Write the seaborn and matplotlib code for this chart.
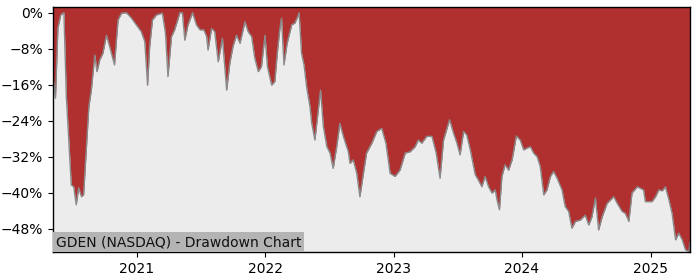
import matplotlib
matplotlib.use("Agg")
import matplotlib.pyplot as plt
import matplotlib.dates as mdates
from matplotlib.ticker import PercentFormatter, FixedLocator
import seaborn as sns
import pandas as pd

dates = [
    "2020-05-07", "2020-05-14", "2020-05-21", "2020-05-29", "2020-06-07", "2020-06-14",
    "2020-06-21", "2020-06-28", "2020-07-05", "2020-07-12", "2020-07-19", "2020-07-27",
    "2020-08-02", "2020-08-08", "2020-08-17", "2020-08-24", "2020-09-03", "2020-09-09",
    "2020-09-17", "2020-09-26", "2020-10-06", "2020-10-15", "2020-10-29", "2020-11-08",
    "2020-11-18", "2020-12-02", "2020-12-16", "2020-12-30", "2021-01-13", "2021-01-23",
    "2021-01-31", "2021-02-06", "2021-02-14", "2021-02-25", "2021-03-14", "2021-03-23",
    "2021-03-30", "2021-04-09", "2021-04-18", "2021-05-03", "2021-05-10", "2021-05-17",
    "2021-05-26", "2021-06-08", "2021-06-19", "2021-06-29", "2021-07-10", "2021-07-18",
    "2021-07-22", "2021-08-01", "2021-08-10", "2021-08-20", "2021-09-01", "2021-09-13",
    "2021-09-22", "2021-10-01", "2021-10-11", "2021-10-21", "2021-11-04", "2021-11-13",
    "2021-11-23", "2021-12-02", "2021-12-12", "2021-12-21", "2021-12-31", "2022-01-07",
    "2022-01-19", "2022-01-28", "2022-02-04", "2022-02-11", "2022-02-16", "2022-02-23",
    "2022-03-04", "2022-03-17", "2022-03-26", "2022-04-03", "2022-04-07", "2022-04-14",
    "2022-04-21", "2022-04-29", "2022-05-08", "2022-05-13", "2022-05-22", "2022-06-01",
    "2022-06-07", "2022-06-15", "2022-06-25", "2022-07-04", "2022-07-13", "2022-07-23",
    "2022-08-01", "2022-08-11", "2022-08-25", "2022-08-30", "2022-09-08", "2022-09-18",
    "2022-09-27", "2022-10-07", "2022-10-16", "2022-10-31", "2022-11-14", "2022-11-28",
    "2022-12-10", "2022-12-22", "2023-01-05", "2023-01-19", "2023-02-03", "2023-02-17",
    "2023-03-03", "2023-03-12", "2023-03-22", "2023-04-05", "2023-04-20", "2023-05-02",
    "2023-05-13", "2023-05-23", "2023-06-09", "2023-06-20", "2023-06-30", "2023-07-09",
    "2023-07-19", "2023-07-28", "2023-08-07", "2023-08-21", "2023-08-30", "2023-09-09",
    "2023-09-18", "2023-09-28", "2023-10-08", "2023-10-17", "2023-10-22", "2023-10-29",
    "2023-11-05", "2023-11-14", "2023-11-24", "2023-12-04", "2023-12-16", "2023-12-27",
    "2024-01-06", "2024-01-15", "2024-01-25", "2024-02-03", "2024-02-13", "2024-02-22",
    "2024-03-03", "2024-03-12", "2024-03-22", "2024-03-31", "2024-04-10", "2024-04-24",
    "2024-05-03", "2024-05-13", "2024-05-22", "2024-06-01", "2024-06-15", "2024-06-29",
    "2024-07-09", "2024-07-18", "2024-07-28", "2024-08-06", "2024-08-16", "2024-08-30",
    "2024-09-18", "2024-09-28", "2024-10-12", "2024-10-21", "2024-10-31", "2024-11-09",
    "2024-11-24", "2024-12-12", "2024-12-17", "2025-01-05", "2025-01-15", "2025-01-24",
    "2025-02-03", "2025-02-12", "2025-02-22", "2025-03-03", "2025-03-13", "2025-03-22",
    "2025-04-01", "2025-04-10", "2025-04-20", "2025-04-23",
]

drawdown_pct = [
    -14.2, -19.0, -3.4, -0.5, 0.0, -18.7,
    -28.3, -38.3, -38.7, -42.7, -38.9, -40.9,
    -40.5, -32.7, -20.9, -17.2, -9.4, -13.1,
    -10.5, -9.0, -5.0, -7.5, -11.6, -1.6,
    -0.1, 0.0, -1.2, -2.7, -4.2, -6.4,
    -16.1, -7.5, -1.6, -0.5, -0.1, -4.6,
    -14.2, -5.3, -3.8, 0.0, 0.0, -6.1,
    -2.7, 0.0, -2.7, -3.8, -3.8, -5.3,
    -8.3, -3.5, -4.2, -10.9, -5.7, -17.2,
    -11.2, -7.5, -5.0, -6.8, -2.0, -4.2,
    -5.3, -10.1, -13.1, -12.0, -5.0, -12.0,
    -16.1, -15.3, -9.0, -3.8, -1.2, -11.6,
    -6.8, -2.7, -2.3, -0.9, 0.0, -9.0,
    -11.6, -16.8, -20.9, -24.6, -28.3, -21.3,
    -17.2, -25.3, -29.8, -31.2, -34.6, -29.8,
    -24.6, -27.5, -30.9, -33.5, -32.7, -35.7,
    -40.9, -35.7, -31.2, -29.0, -26.4, -25.7,
    -29.0, -35.7, -36.4, -35.0, -31.2, -30.9,
    -29.8, -28.3, -29.0, -27.5, -27.5, -31.2,
    -36.8, -28.3, -23.8, -26.7, -29.0, -31.6,
    -26.4, -27.2, -30.5, -36.0, -37.2, -38.7,
    -36.4, -38.7, -40.1, -39.4, -41.6, -43.8,
    -36.4, -33.8, -35.0, -32.7, -27.4, -28.3,
    -30.5, -30.1, -29.8, -31.2, -32.0, -34.2,
    -40.5, -39.4, -36.4, -35.3, -36.8, -39.4,
    -43.1, -44.2, -47.9, -46.4, -46.1, -45.0,
    -47.2, -45.4, -41.2, -48.3, -45.4, -42.4,
    -40.9, -42.4, -44.2, -44.6, -46.4, -40.1,
    -38.7, -39.4, -42.0, -42.0, -40.9, -39.4,
    -39.6, -38.7, -41.6, -44.6, -50.5, -49.0,
    -50.5, -52.7, -53.1, -51.0,
]

y_ticks = [0, -8, -16, -24, -32, -40, -48]
title_text = "GDEN (NASDAQ) - Drawdown Chart"

df = pd.DataFrame({"date": pd.to_datetime(dates), "dd": drawdown_pct})

sns.set_style("ticks", {"axes.facecolor": "#ececec", "axes.edgecolor": "black"})
plt.rcParams["font.family"] = ["DejaVu Sans"]

fig = plt.figure(figsize=(7, 2.8), dpi=100)
ax = fig.add_axes([53 / 700, 28 / 280, 637 / 700, 245 / 280])

y_top = 1.27
y_bot = -53.2
ax.fill_between(df["date"], df["dd"], y_top, color="#b03030", linewidth=0)
sns.lineplot(data=df, x="date", y="dd", ax=ax, color="#8a8a8a", linewidth=1.0)

ax.set_xlim(df["date"].iloc[0], df["date"].iloc[-1])
ax.set_ylim(y_bot, y_top)
ax.yaxis.set_major_locator(FixedLocator(y_ticks))
ax.yaxis.set_major_formatter(PercentFormatter(xmax=100, decimals=0))
ax.xaxis.set_major_locator(mdates.YearLocator())
ax.xaxis.set_major_formatter(mdates.DateFormatter("%Y"))
ax.set_xlabel("")
ax.set_ylabel("")
ax.tick_params(labelsize=10, colors="black", length=3.5, width=0.8)
for s in ax.spines.values():
    s.set_linewidth(1.0)
    s.set_color("black")

ax.text(0.0045, 0.012, title_text, transform=ax.transAxes, fontsize=10,
        ha="left", va="bottom", color="#111111",
        bbox=dict(boxstyle="square,pad=0.22", facecolor="#b4b4b4", edgecolor="none"))

fig.savefig("out.png", dpi=100)
